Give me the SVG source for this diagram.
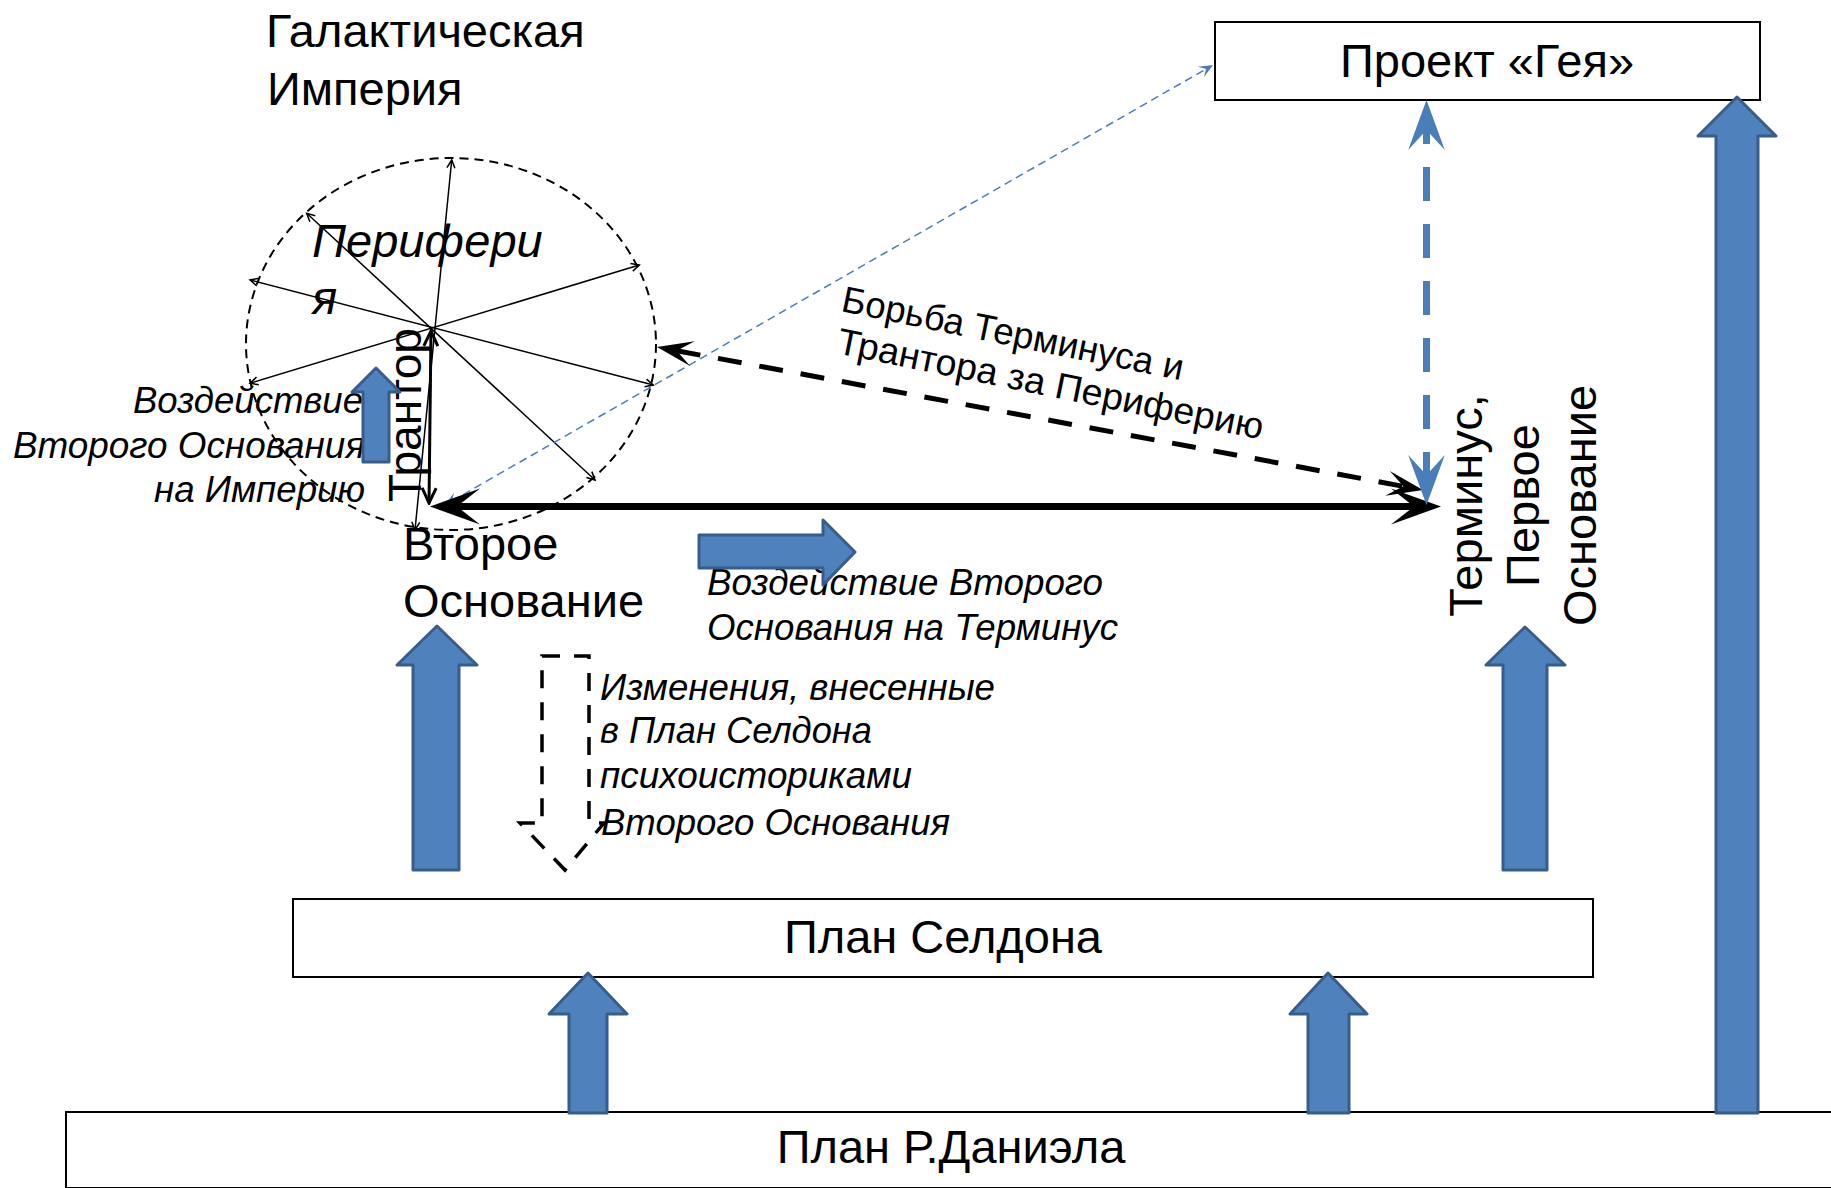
<svg xmlns="http://www.w3.org/2000/svg" width="1831" height="1188" viewBox="0 0 1831 1188">
<style>
.t{font-family:"Liberation Sans",Arial,sans-serif;fill:#000}
.n{font-size:47px}
.it{font-style:italic;font-size:37px}
.box{fill:#fff;stroke:#000;stroke-width:2}
.blk{fill:#4F81BD;stroke:#385D8A;stroke-width:3;stroke-linejoin:round}
.thin{stroke:#000;stroke-width:1.5;fill:none;marker-start:url(#vthin);marker-end:url(#vthin)}
</style>
<defs>
<marker id="stealthBig" markerUnits="userSpaceOnUse" viewBox="-52 -20 54 40" markerWidth="54" markerHeight="40" refX="-27" refY="0" orient="auto-start-reverse"><path d="M0,0 L-50,-18 L-27,0 L-50,18 Z" fill="#000"/></marker>
<marker id="stealthMid" markerUnits="userSpaceOnUse" viewBox="-38 -14 40 28" markerWidth="40" markerHeight="28" refX="-20" refY="0" orient="auto-start-reverse"><path d="M0,0 L-36,-12.5 L-20,0 L-36,12.5 Z" fill="#000"/></marker>
<marker id="stealthBlue" markerUnits="userSpaceOnUse" viewBox="-52 -20 54 40" markerWidth="54" markerHeight="40" refX="-30" refY="0" orient="auto-start-reverse"><path d="M0,0 L-50,-18.3 L-30,0 L-50,18.3 Z" fill="#4A7EBB"/></marker>
<marker id="stealthSmall" markerUnits="userSpaceOnUse" viewBox="-16 -8 18 16" markerWidth="18" markerHeight="16" refX="-8" refY="0" orient="auto-start-reverse"><path d="M0,0 L-14,-6 L-8,0 L-14,6 Z" fill="#4A7EBB"/></marker>
<marker id="vthin" markerUnits="userSpaceOnUse" viewBox="-12 -7 14 14" markerWidth="14" markerHeight="14" refX="0" refY="0" orient="auto-start-reverse"><path d="M-8,-4 L0,0 L-8,4" fill="none" stroke="#000" stroke-width="1.5"/></marker>
<marker id="vthick" markerUnits="userSpaceOnUse" viewBox="-18 -10 20 20" markerWidth="20" markerHeight="20" refX="0" refY="0" orient="auto-start-reverse"><path d="M-15,-7 L0,0 L-15,7" fill="none" stroke="#000" stroke-width="3"/></marker>
</defs>

<g id="galaxy-empire">
<ellipse cx="451" cy="344" rx="205" ry="186" fill="none" stroke="#000" stroke-width="2" stroke-dasharray="9 6"/>
<g id="periphery-rays">
<line class="thin" x1="451.7" y1="160" x2="415" y2="530"/>
<line class="thin" x1="306.7" y1="213.3" x2="595" y2="480"/>
<line class="thin" x1="250" y1="280" x2="653.3" y2="385"/>
<line class="thin" x1="250" y1="383.3" x2="639.3" y2="265"/>
</g>
<text class="t n" x="266" y="47">Галактическая</text>
<text class="t n" x="267" y="105">Империя</text>
<text class="t n" font-style="italic" x="312" y="257">Перифери</text>
<text class="t n" font-style="italic" x="312" y="314">я</text>
</g>

<g id="trantor">
<line x1="431" y1="331" x2="429" y2="503" stroke="#000" stroke-width="3" marker-start="url(#vthick)" marker-end="url(#vthick)"/>
<text class="t" font-size="46" transform="translate(421,502) rotate(-90)">Трантор</text>
</g>

<g id="gaia">
<rect class="box" x="1215" y="22" width="545" height="78"/>
<text class="t n" x="1487" y="77" text-anchor="middle">Проект «Гея»</text>
</g>

<g id="seldon-plan">
<rect class="box" x="293" y="899" width="1300" height="78"/>
<text class="t n" x="943" y="953" text-anchor="middle">План Селдона</text>
</g>

<g id="daniel-plan">
<rect class="box" x="66" y="1112" width="1800" height="76"/>
<text class="t n" x="951" y="1163" text-anchor="middle">План Р.Даниэла</text>
</g>

<g id="second-foundation">
<text class="t n" x="403" y="560">Второе</text>
<text class="t n" x="403" y="617">Основание</text>
</g>

<g id="terminus">
<g transform="translate(1481.5,505.5) rotate(-90)">
<text class="t n" x="0" y="0" text-anchor="middle">Терминус,</text>
<text class="t n" x="0" y="57" text-anchor="middle">Первое</text>
<text class="t n" x="0" y="114.5" text-anchor="middle">Основание</text>
</g>
</g>

<g id="labels">
<text class="t it" x="133" y="413" textLength="230" lengthAdjust="spacingAndGlyphs">Воздействие</text>
<text class="t it" x="13" y="458" textLength="352" lengthAdjust="spacingAndGlyphs">Второго Основания</text>
<text class="t it" x="154" y="502" textLength="211" lengthAdjust="spacingAndGlyphs">на Империю</text>
<text class="t it" x="707" y="595" textLength="396" lengthAdjust="spacingAndGlyphs">Воздействие Второго</text>
<text class="t it" x="707" y="640" textLength="411" lengthAdjust="spacingAndGlyphs">Основания на Терминус</text>
<text class="t it" x="600" y="700" textLength="395" lengthAdjust="spacingAndGlyphs">Изменения, внесенные</text>
<text class="t it" x="600" y="743" textLength="272" lengthAdjust="spacingAndGlyphs">в План Селдона</text>
<text class="t it" x="600" y="788" textLength="312" lengthAdjust="spacingAndGlyphs">психоисториками</text>
<text class="t it" x="601" y="835" textLength="349" lengthAdjust="spacingAndGlyphs">Второго Основания</text>
<g transform="translate(840,311) rotate(11.5)">
<text class="t" font-size="37" x="0" y="0" textLength="348" lengthAdjust="spacingAndGlyphs">Борьба Терминуса и</text>
<text class="t" font-size="37" x="4" y="42" textLength="434" lengthAdjust="spacingAndGlyphs">Трантора за Периферию</text>
</g>
</g>

<g id="connectors">
<line x1="451.9" y1="501" x2="1206.1" y2="69" stroke="#4A7EBB" stroke-width="1.5" stroke-dasharray="8 5" marker-start="url(#stealthSmall)" marker-end="url(#stealthSmall)"/>
<line x1="457" y1="506.5" x2="1414" y2="506.5" stroke="#000" stroke-width="7" marker-start="url(#stealthBig)" marker-end="url(#stealthBig)"/>
<line x1="676.7" y1="350.7" x2="1403.3" y2="486.3" stroke="#000" stroke-width="5" stroke-dasharray="24 18" marker-start="url(#stealthMid)" marker-end="url(#stealthMid)"/>
<line x1="1426.5" y1="130" x2="1426.5" y2="475" stroke="#4A7EBB" stroke-width="7" stroke-dasharray="34 23" stroke-dashoffset="20" marker-start="url(#stealthBlue)" marker-end="url(#stealthBlue)"/>
<polygon points="542,656 589,656 589,823 604,823 565,870 520,823 542,823" fill="none" stroke="#000" stroke-width="3.5" stroke-dasharray="18 14"/>
<polygon class="blk" points="437,626 477,665 459,665 459,870 413,870 413,665 397,665"/>
<polygon class="blk" points="1525,627 1565,665 1547,665 1547,870 1503,870 1503,665 1486,665"/>
<polygon class="blk" points="1737,97 1776,136 1758,136 1758,1113 1716,1113 1716,136 1698,136"/>
<polygon class="blk" points="588,973 627,1014 607,1014 607,1113 569,1113 569,1014 549,1014"/>
<polygon class="blk" points="1328,973 1367,1014 1349,1014 1349,1113 1308,1113 1308,1014 1290,1014"/>
<polygon class="blk" points="376,368 400,392 389,392 389,462 363,462 363,392 352,392"/>
<polygon class="blk" points="855,552 823,585 823,568 699,568 699,535 823,535 823,520"/>
</g>
</svg>
